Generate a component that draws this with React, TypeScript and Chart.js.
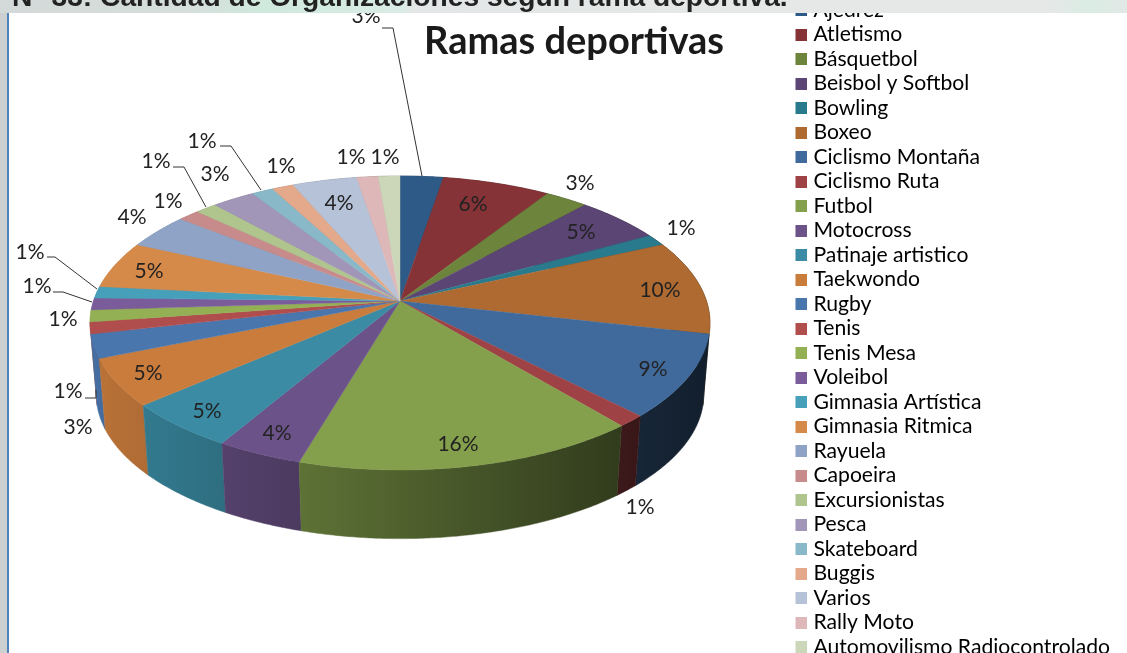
import React, { useEffect, useRef } from "react";
import { Chart, registerables } from "chart.js";

Chart.register(...registerables);

const categories = [
  "Ajedrez", "Atletismo", "Básquetbol", "Beisbol y Softbol", "Bowling", "Boxeo",
  "Ciclismo Montaña", "Ciclismo Ruta", "Futbol", "Motocross", "Patinaje artistico",
  "Taekwondo", "Rugby", "Tenis", "Tenis Mesa", "Voleibol", "Gimnasia Artística",
  "Gimnasia Ritmica", "Rayuela", "Capoeira", "Excursionistas", "Pesca", "Skateboard",
  "Buggis", "Varios", "Rally Moto", "Automovilismo Radiocontrolado",
];
const organizaciones = [2, 5, 2, 4, 1, 8, 7, 1, 12, 3, 4, 4, 2, 1, 1, 1, 1, 4, 3, 1, 1, 2, 1, 1, 3, 1, 1];
const sliceColors = [
  "#2d5a86", "#853337", "#6d843c", "#5b4574", "#2a7a8e", "#ae6a30", "#406a9c", "#9f4245", "#84a04c",
  "#6b5288", "#3a8ba3", "#c97c3c", "#4a76ae", "#b04d4d", "#93b054", "#7a5c9b", "#46a0ba", "#d68a4a",
  "#8ea3c6", "#c78b8b", "#b0c48e", "#a196b7", "#89b8c8", "#e3a98a", "#b6c2d8", "#deb8b8", "#ccd6b9",
];
const titleText = "Ramas deportivas";
const headingText = "N° 33: Cantidad de Organizaciones según rama deportiva.";

// page-space centre of each percentage label, in the order of the categories
const labelCenters = [
  [366, 16], [473, 204], [580, 183], [581, 232], [681, 228], [660, 290], [653, 369], [640, 507], [458, 444],
  [277, 433], [207, 411], [148, 373], [78, 427], [68, 391], [63, 319], [37, 286], [30, 252], [149, 271],
  [132, 217], [168, 201], [156, 161], [215, 174], [202, 141], [281, 166], [339, 203], [351, 157], [385, 157],
];
const leaderLines = [
  [[382, 28], [393, 28], [422, 176]],
  [[85, 398], [96, 398], [96, 390]],
  [[53, 292], [63, 292], [92, 302]],
  [[47, 257], [55, 257], [97, 289]],
  [[173, 167], [184, 167], [206, 207]],
  [[220, 146], [231, 146], [261, 190]],
];

const CANVAS_TOP = -32;
const CANVAS_H = 721;
const PIE = { cx: 400, cy: 301, rx: 306.5, ry: 143.7, k: 0.1497, bottomCy: 373, bottomScale: 0.98 };

function project(a: number, bottom: boolean) {
  const u = Math.cos(a);
  const v = Math.sin(a);
  const w = 1 - PIE.k * v;
  const s = bottom ? PIE.bottomScale : 1;
  return {
    x: PIE.cx + (s * PIE.rx * u) / w,
    y: (bottom ? PIE.bottomCy : PIE.cy) + (s * PIE.ry * v) / w,
  };
}

function shade(hex: string, f: number) {
  const n = parseInt(hex.slice(1), 16);
  const c = [(n >> 16) & 255, (n >> 8) & 255, n & 255].map((x) => Math.round(x * f));
  return `rgb(${c[0]},${c[1]},${c[2]})`;
}

function arcSamples(start: number, end: number) {
  const n = Math.max(2, Math.ceil((end - start) / 0.008));
  const out: number[] = [];
  for (let i = 0; i <= n; i++) out.push(start + ((end - start) * i) / n);
  return out;
}

const pie3d = {
  id: "pie3d",
  beforeDatasetDraw(chart: any) {
    const ctx = chart.ctx;
    const arcs = chart.getDatasetMeta(0).data as any[];
    ctx.save();
    ctx.translate(0, -CANVAS_TOP);
    const order = arcs
      .map((el, i) => ({ el, i, mid: Math.sin((el.startAngle + el.endAngle) / 2) }))
      .sort((a, b) => a.mid - b.mid);
    for (const { el, i } of order) {
      const samples = arcSamples(el.startAngle, el.endAngle);
      const g = ctx.createLinearGradient(90, 0, 710, 0);
      for (let t = 0; t <= 4; t++) {
        g.addColorStop(t / 4, shade(sliceColors[i], 0.93 - 0.65 * (t / 4)));
      }
      ctx.beginPath();
      samples.forEach((a, j) => {
        const p = project(a, false);
        j ? ctx.lineTo(p.x, p.y) : ctx.moveTo(p.x, p.y);
      });
      [...samples].reverse().forEach((a) => {
        const p = project(a, true);
        ctx.lineTo(p.x, p.y);
      });
      ctx.closePath();
      ctx.fillStyle = g;
      ctx.strokeStyle = g;
      ctx.lineWidth = 0.5;
      ctx.fill();
      ctx.stroke();
    }
    arcs.forEach((el, i) => {
      ctx.beginPath();
      ctx.moveTo(PIE.cx, PIE.cy);
      arcSamples(el.startAngle, el.endAngle).forEach((a) => {
        const p = project(a, false);
        ctx.lineTo(p.x, p.y);
      });
      ctx.closePath();
      ctx.fillStyle = sliceColors[i];
      ctx.strokeStyle = sliceColors[i];
      ctx.lineWidth = 0.4;
      ctx.fill();
      ctx.stroke();
    });
    ctx.restore();
    return false;
  },
  afterDraw(chart: any) {
    const ctx = chart.ctx;
    const total = organizaciones.reduce((a, b) => a + b, 0);
    ctx.save();
    ctx.translate(0, -CANVAS_TOP);
    ctx.strokeStyle = "#333333";
    ctx.lineWidth = 1;
    leaderLines.forEach((line) => {
      ctx.beginPath();
      line.forEach(([x, y], j) => (j ? ctx.lineTo(x, y) : ctx.moveTo(x, y)));
      ctx.stroke();
    });
    ctx.fillStyle = "#222222";
    ctx.font = "21px Lato";
    ctx.textAlign = "center";
    ctx.textBaseline = "middle";
    organizaciones.forEach((v, i) => {
      const [x, y] = labelCenters[i];
      ctx.fillText(`${Math.round((v / total) * 100)}%`, x, y);
    });
    ctx.restore();
  },
};

function swatch(color: string) {
  const c = document.createElement("canvas");
  c.width = 12;
  c.height = 12;
  const x = c.getContext("2d")!;
  x.fillStyle = color;
  x.fillRect(0, 0, 12, 12);
  return c;
}

export default function App() {
  const ref = useRef<HTMLCanvasElement>(null);
  useEffect(() => {
    document.body.style.margin = "0";
    document.body.style.overflow = "hidden";
    const chart = new Chart(ref.current!, {
      type: "pie",
      data: {
        labels: categories,
        datasets: [{ data: organizaciones, backgroundColor: sliceColors, borderWidth: 0 }],
      },
      plugins: [pie3d],
      options: {
        animation: false,
        responsive: false,
        layout: { padding: { left: 28, right: 7, top: 0, bottom: 0 } },
        plugins: {
          tooltip: { enabled: false },
          title: {
            display: true,
            text: titleText,
            color: "#1a1a1a",
            font: { family: "Lato", size: 38, weight: "bold" },
            padding: { top: 51, bottom: 0 },
          },
          legend: {
            position: "right",
            labels: {
              color: "#3c3c3c",
              font: { family: "Lato", size: 21.15 },
              padding: 3.35,
              boxWidth: 12,
              boxHeight: 12,
              usePointStyle: true,
              pointStyleWidth: 4,
              generateLabels: () =>
                categories.map((text, i) => ({
                  text,
                  fillStyle: sliceColors[i],
                  strokeStyle: sliceColors[i],
                  lineWidth: 0,
                  pointStyle: swatch(sliceColors[i]),
                  hidden: false,
                  index: i,
                })),
            },
          },
        },
      },
    } as any);
    return () => chart.destroy();
  }, []);

  return (
    <div style={{ position: "fixed", left: 0, top: 0, width: 1127, height: 653, overflow: "hidden", background: "#fff" }}>
      <canvas
        ref={ref}
        width={1127}
        height={CANVAS_H}
        style={{ position: "absolute", left: 0, top: CANVAS_TOP, display: "block", filter: "blur(0.6px)" }}
      />
      <div
        style={{
          position: "absolute", left: 0, top: 0, width: 1127, height: 13, overflow: "hidden",
          background:
            "linear-gradient(90deg,#d3d9d8 0,#d6dfdc 190px,#cfe9dd 260px,#d9ece5 400px,#e3e6e6 416px,#e6e8e8 800px,#e6e8e8 1050px,#d9ece3 1090px,#e2e8e6 1127px)",
        }}
      >
        <div
          style={{
            position: "absolute", left: 12, top: -22, whiteSpace: "nowrap", color: "#222",
            font: "bold 28.2px 'Liberation Sans'", lineHeight: "36px", filter: "blur(0.5px)",
          }}
        >
          {headingText}
        </div>
      </div>
      <div style={{ position: "absolute", left: 0, top: 13, width: 7, height: 640, background: "#cdd0d0" }} />
      <div style={{ position: "absolute", left: 7, top: 13, width: 2, height: 640, background: "#4f81bd" }} />
    </div>
  );
}
